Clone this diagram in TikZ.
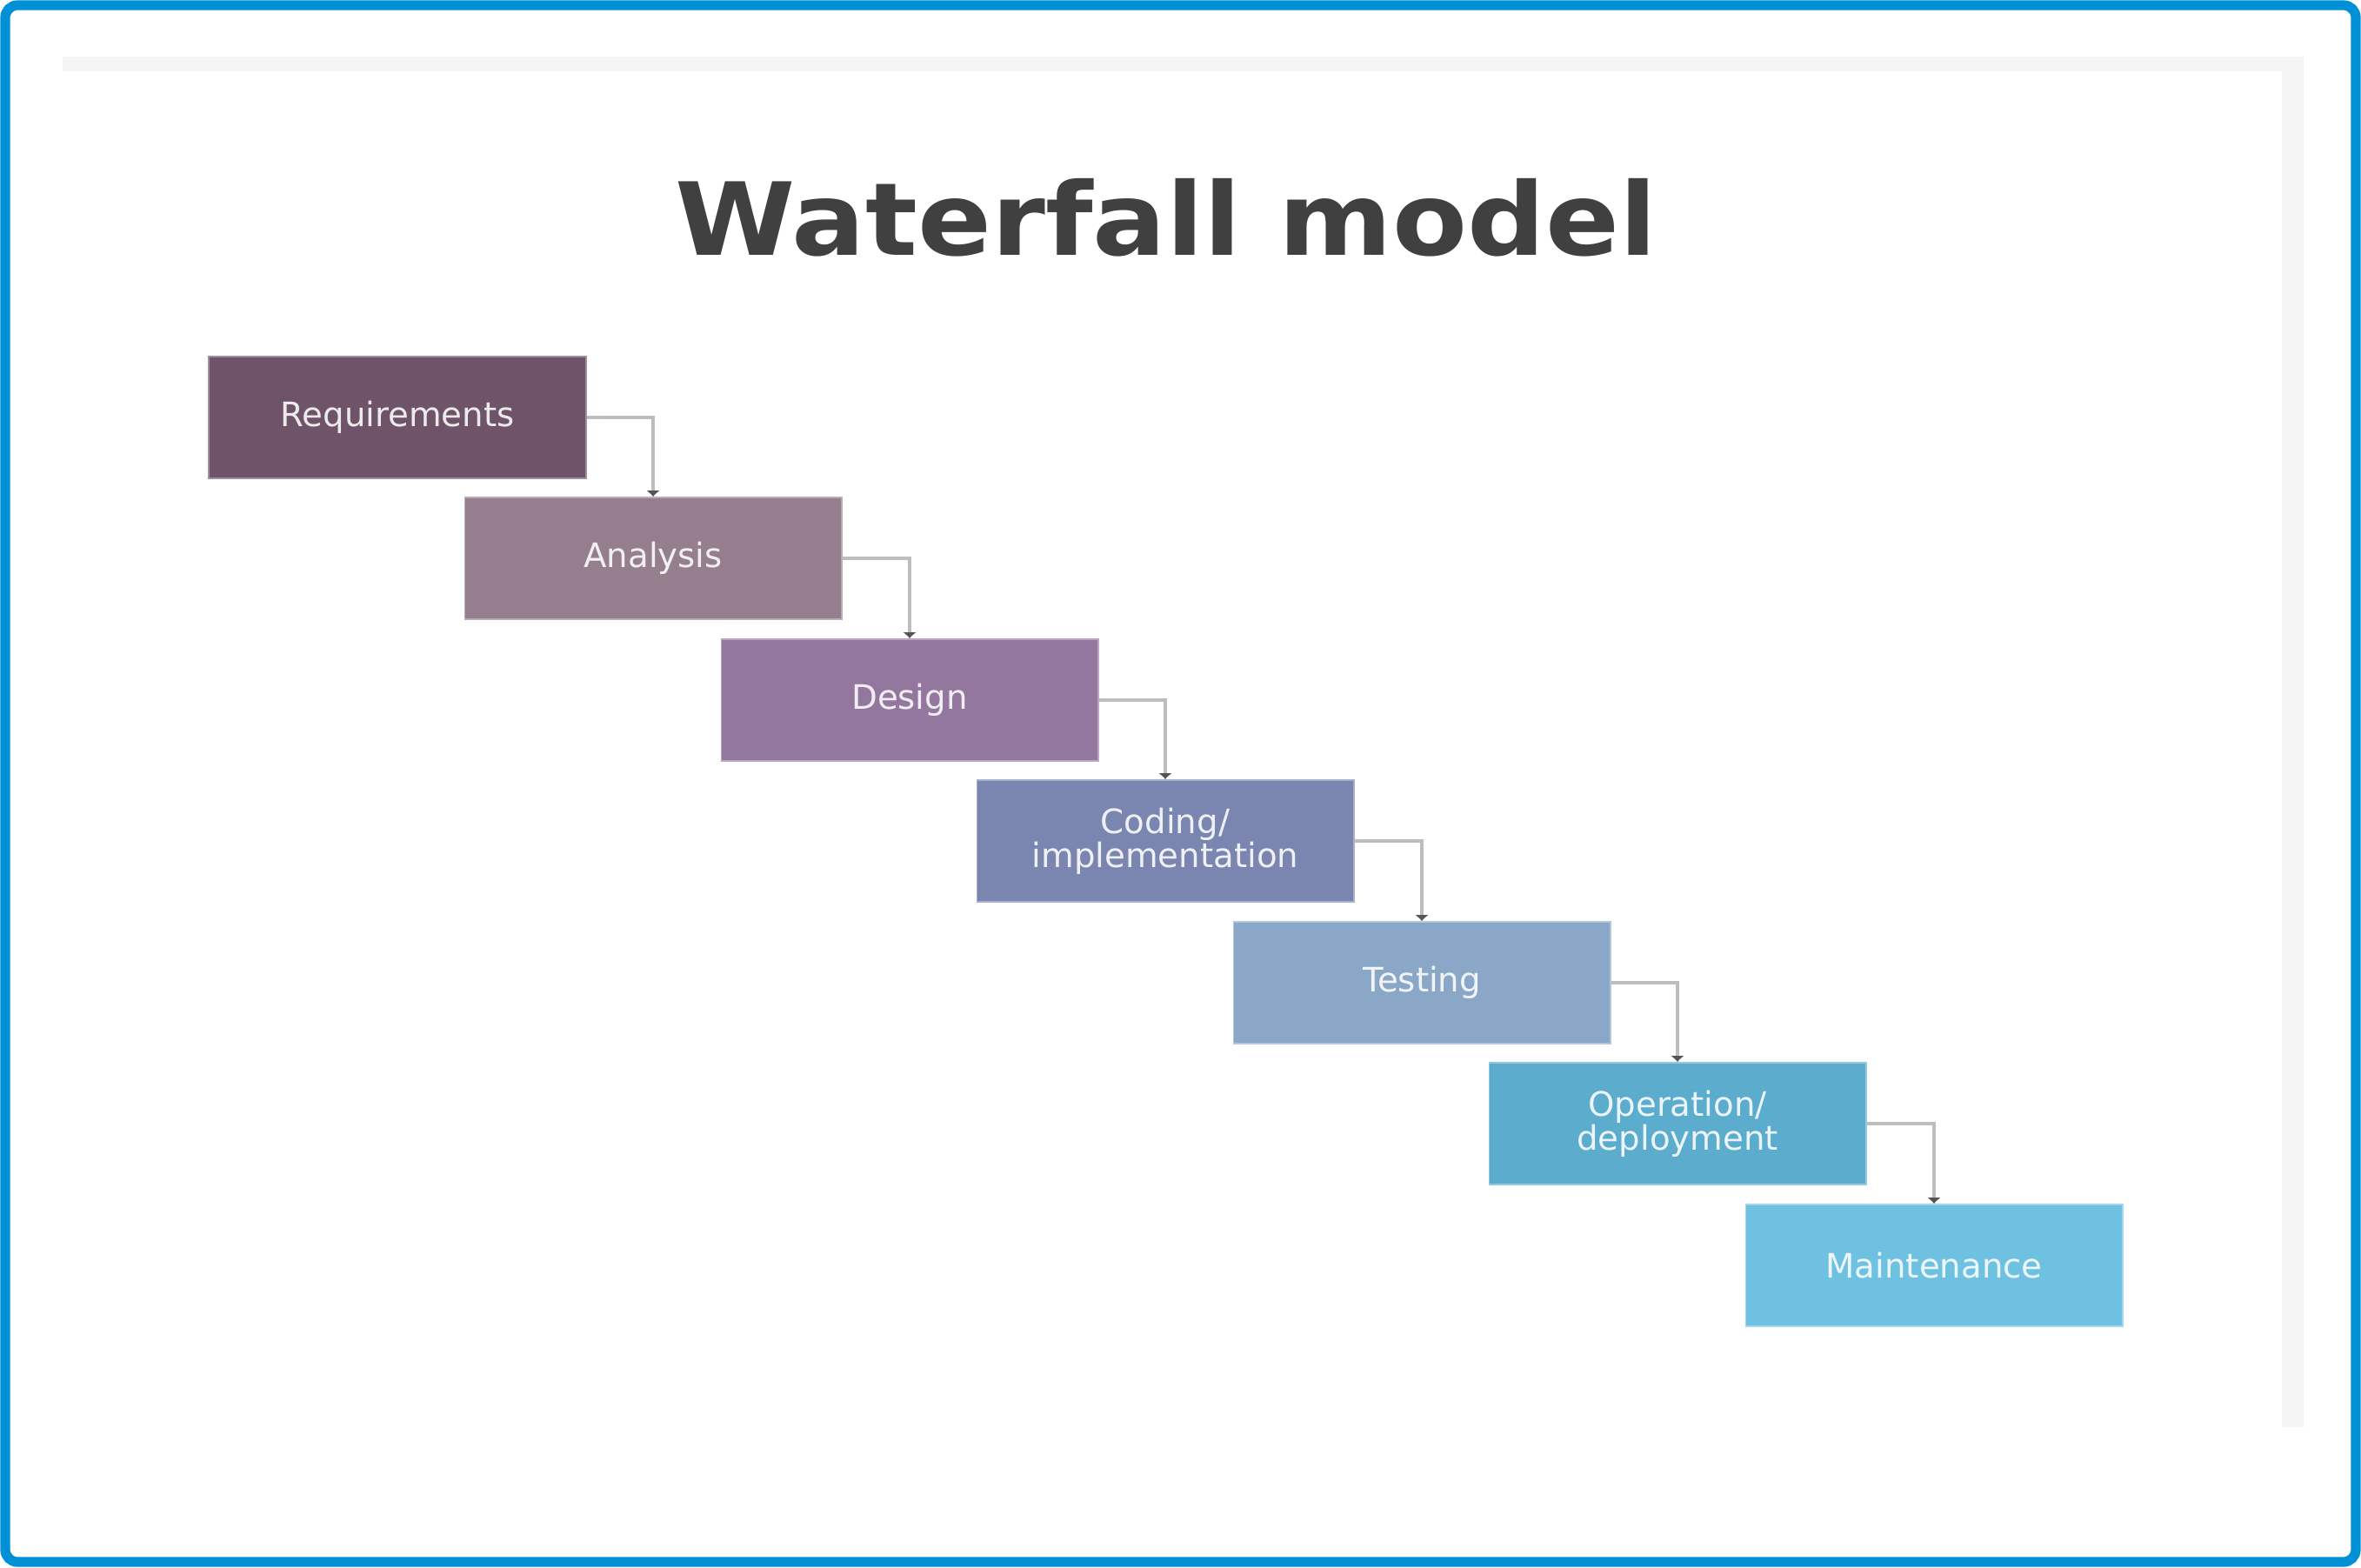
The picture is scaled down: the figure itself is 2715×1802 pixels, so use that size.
\documentclass[tikz,border=0pt]{standalone}
\usepackage{fontspec}
\setmainfont{DejaVu Sans}
\usepackage{tikz}
\usetikzlibrary{arrows.meta}

\definecolor{frameblue}{HTML}{0090D5}
\definecolor{stripegray}{HTML}{F5F5F5}
\definecolor{titlegray}{HTML}{404040}
\definecolor{linkgray}{HTML}{BDBDBD}
\definecolor{tipgray}{HTML}{555555}
\definecolor{reqcol}{HTML}{6F5369}
\definecolor{anacol}{HTML}{957F8F}
\definecolor{descol}{HTML}{94779F}
\definecolor{codcol}{HTML}{7A85B0}
\definecolor{tstcol}{HTML}{8BA7C7}
\definecolor{opcol}{HTML}{5BACCD}
\definecolor{maicol}{HTML}{6EC1E0}

\begin{document}
\begin{tikzpicture}[x=0.01cm, y=-0.01cm,
    phase/.style={minimum width=4.33cm, minimum height=1.4cm, inner sep=0pt,
        align=center, text=white, text opacity=0.88, line width=0.5pt,
        font=\fontsize{11}{11}\selectfont},
    link/.style={draw=linkgray, line width=1.1pt,
        -{Latex[length=2pt,width=4.5pt,color=tipgray]}}]
    \useasboundingbox (0,0) rectangle (2715,1802);
    \fill[white] (0,0) rectangle (2715,1802);
    \fill[stripegray] (72,65) rectangle (2649,82);
    \fill[stripegray] (2624,65) rectangle (2649,1641);
    \draw[frameblue, line width=3.2pt, rounded corners=4pt] (6,6) rectangle (2709,1796);

    \node[font=\bfseries\fontsize{33}{33}\selectfont, text=titlegray, anchor=base] (title) at (1341,293) {\scalebox{1.08}[1]{Waterfall model}};

    \node[phase, fill=reqcol, draw=reqcol!65!white] (req) at (457,480) {Requirements};
    \node[phase, fill=anacol, draw=anacol!65!white] (ana) at (751,642) {Analysis};
    \node[phase, fill=descol, draw=descol!65!white] (des) at (1046,805) {Design};
    \node[phase, fill=codcol, draw=codcol!65!white] (cod) at (1340,967) {Coding/\\implementation};
    \node[phase, fill=tstcol, draw=tstcol!65!white] (tst) at (1635,1130) {Testing};
    \node[phase, fill=opcol, draw=opcol!65!white] (opd) at (1929,1292) {Operation/\\deployment};
    \node[phase, fill=maicol, draw=maicol!65!white] (mai) at (2224,1455) {Maintenance};

    \draw[link] (req.east) -| (ana.north);
    \draw[link] (ana.east) -| (des.north);
    \draw[link] (des.east) -| (cod.north);
    \draw[link] (cod.east) -| (tst.north);
    \draw[link] (tst.east) -| (opd.north);
    \draw[link] (opd.east) -| (mai.north);
\end{tikzpicture}
\end{document}
